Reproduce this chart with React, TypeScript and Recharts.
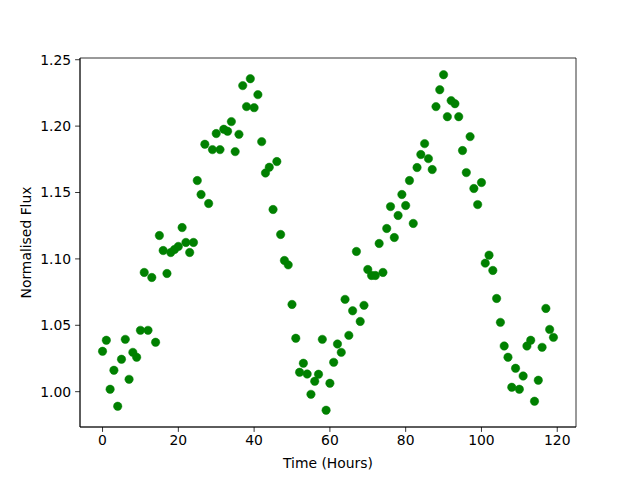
import React from 'react';
import { ScatterChart, Scatter, XAxis, YAxis, ReferenceArea } from 'recharts';

const fluxValues: number[] = [
  1.0304, 1.0387, 1.0018, 1.0161, 0.989, 1.0244, 1.0394, 1.0093, 1.0296, 1.0259,
  1.0462, 1.0898, 1.0462, 1.086, 1.0372, 1.1176, 1.1063, 1.089, 1.1048, 1.1071,
  1.1094, 1.1236, 1.1124, 1.1048, 1.1124, 1.159, 1.1485, 1.1863, 1.1417, 1.1823,
  1.1944, 1.1823, 1.1976, 1.1961, 1.2034, 1.1808, 1.1938, 1.2305, 1.2147, 1.2357,
  1.2139, 1.2237, 1.1883, 1.1647, 1.169, 1.1372, 1.1733, 1.1184, 1.0988, 1.0955,
  1.0657, 1.0402, 1.0146, 1.0214, 1.0133, 0.998, 1.0078, 1.0131, 1.0394, 0.986,
  1.0063, 1.0221, 1.0359, 1.0296, 1.0695, 1.0424, 1.0609, 1.1056, 1.0529, 1.065,
  1.092, 1.0875, 1.0875, 1.1116, 1.0898, 1.1229, 1.1394, 1.1161, 1.1327, 1.1485,
  1.1402, 1.159, 1.1267, 1.1688, 1.1786, 1.1868, 1.1755, 1.1673, 1.2147, 1.2274,
  1.2387, 1.2071, 1.2192, 1.2169, 1.2071, 1.1816, 1.165, 1.1921, 1.153, 1.1409,
  1.1575, 1.0968, 1.1028, 1.0913, 1.0702, 1.0522, 1.0344, 1.0259, 1.0033, 1.0176,
  1.0018, 1.0118, 1.0344, 1.0387, 0.9928, 1.0086, 1.0334, 1.0627, 1.0469, 1.0409,
];

const timeHours: number[] = fluxValues.map((_, i) => i);

const xTicks: number[] = [0, 20, 40, 60, 80, 100, 120];
const yTicks: number[] = [1.0, 1.05, 1.1, 1.15, 1.2, 1.25];

const xDomain: [number, number] = [-5.95, 124.95];
const yDomain: [number, number] = [0.9734, 1.2513];

const data = timeHours.map((t, i) => ({ x: t, y: fluxValues[i] }));

const FONT = 'DejaVu Sans';
const tickStyle = { fontFamily: FONT, fontSize: 13.9, fill: '#000' };

const Dot = (props: any) => {
  const { cx, cy } = props;
  if (cx == null || cy == null) return null;
  return <circle cx={cx} cy={cy} r={4.2} fill="#008000" stroke="#008000" strokeWidth={0.5} />;
};

export default function App() {
  return (
    <div style={{ position: 'absolute', left: 0, top: 0, width: 640, height: 480, background: '#fff' }}>
      <ScatterChart width={640} height={480} margin={{ top: 58, right: 64, left: 0, bottom: 0 }}>
        <XAxis
          type="number"
          dataKey="x"
          domain={xDomain}
          ticks={xTicks}
          allowDataOverflow
          height={53}
          stroke="#000"
          strokeWidth={0.8}
          tickSize={4.9}
          tickMargin={3}
          tick={tickStyle}
          tickLine={{ stroke: '#000', strokeWidth: 0.8 }}
          axisLine={{ stroke: '#000', strokeWidth: 0.8 }}
          label={{
            value: 'Time (Hours)',
            position: 'insideBottom',
            offset: 12,
            style: { fontFamily: FONT, fontSize: 13.9, fill: '#000' },
          }}
        />
        <YAxis
          type="number"
          dataKey="y"
          domain={yDomain}
          ticks={yTicks}
          allowDataOverflow
          width={80}
          tickSize={4.9}
          tickMargin={4}
          tick={tickStyle}
          tickFormatter={(v: number) => v.toFixed(2)}
          tickLine={{ stroke: '#000', strokeWidth: 0.8 }}
          axisLine={{ stroke: '#000', strokeWidth: 0.8 }}
          label={{
            content: (p: any) => {
              const vb = p.viewBox || {};
              const cy = (vb.y ?? 58) + (vb.height ?? 369) / 2;
              return (
                <text
                  x={26}
                  y={cy}
                  transform={`rotate(-90, 26, ${cy})`}
                  textAnchor="middle"
                  dominantBaseline="central"
                  style={{ fontFamily: FONT, fontSize: 13.9, fill: '#000' }}
                >
                  Normalised Flux
                </text>
              );
            },
          }}
        />
        <ReferenceArea
          x1={xDomain[0]}
          x2={xDomain[1]}
          y1={yDomain[0]}
          y2={yDomain[1]}
          fill="none"
          fillOpacity={0}
          stroke="#000"
          strokeWidth={0.8}
          strokeOpacity={1}
          ifOverflow="visible"
        />
        <Scatter data={data} isAnimationActive={false} shape={<Dot />} fill="#008000" />
      </ScatterChart>
    </div>
  );
}
